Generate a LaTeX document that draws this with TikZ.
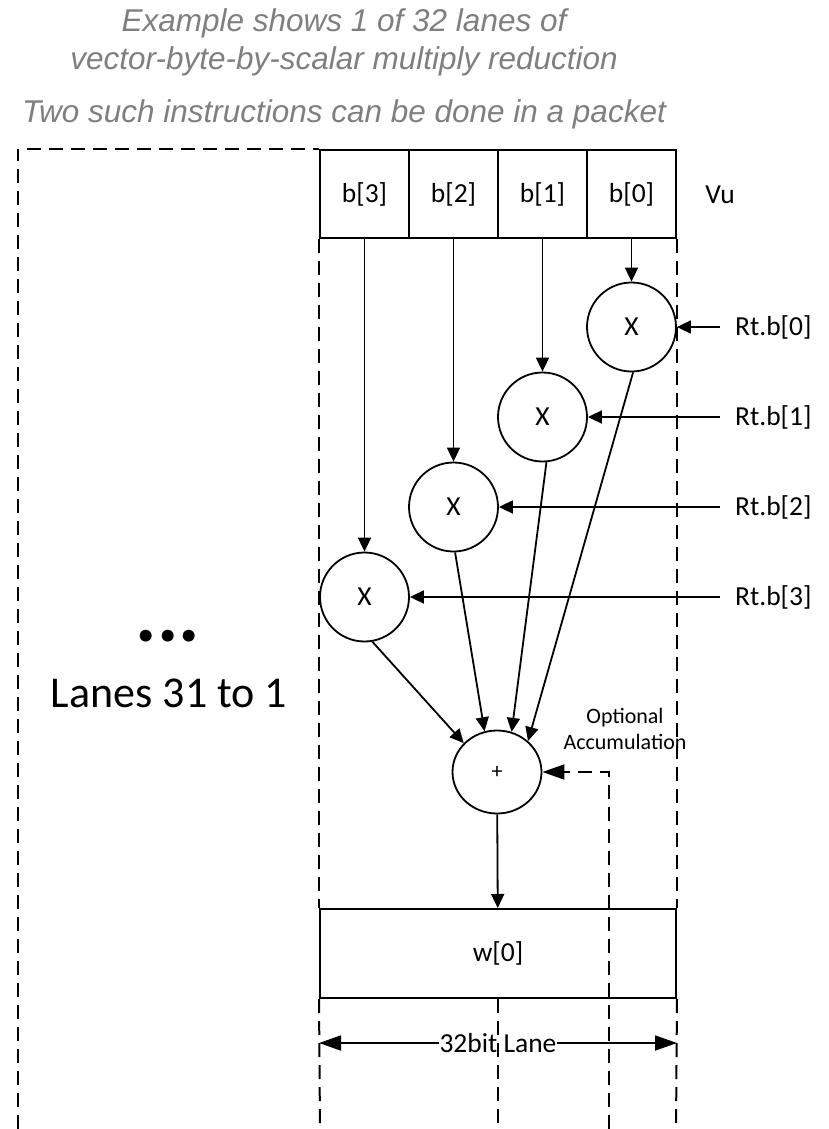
\documentclass[tikz,border=0pt]{standalone}
\usepackage{fontspec}
\setmainfont{Carlito}
\newfontfamily\titlefont{Liberation Sans}
\usetikzlibrary{arrows.meta,shapes.geometric}
\definecolor{titlegray}{HTML}{7F7F7F}
\begin{document}
\begin{tikzpicture}[x=1pt,y=-1pt,
  lbl/.style={font=\fontsize{27.5}{33}\selectfont, inner sep=0pt},
  cellbox/.style={draw, line width=2pt, minimum width=89pt, minimum height=88pt, inner sep=0pt, font=\fontsize{27.5}{33}\selectfont},
  mul/.style={draw, circle, line width=1.8pt, minimum size=89pt, inner sep=0pt, font=\fontsize{27.5}{33}\selectfont},
  sumnode/.style={draw, ellipse, line width=1.8pt, minimum width=89pt, minimum height=83pt, inner sep=0pt, font=\fontsize{22}{26}\selectfont},
  arr/.style={-{Triangle[length=14pt,width=13pt]}, line width=1.8pt},
  bigarr/.style={-{Triangle[length=22pt,width=15pt]}, line width=1.8pt},
  lane/.style={line width=2pt, dash pattern=on 14pt off 8pt},
  titletext/.style={font=\titlefont\itshape\fontsize{31.5}{33}\selectfont, text=titlegray, anchor=base, inner sep=0pt}
]
\useasboundingbox (0,0) rectangle (829,1129);

% title
\node[titletext] (t1) at (344,32) {Example shows 1 of 32 lanes of};
\node[titletext] (t2) at (344,70) {vector-byte-by-scalar multiply reduction};
\node[titletext] (t3) at (344,122) {Two such instructions can be done in a packet};

% Vu register cells
\node[cellbox] (b3) at (364.5,194) {b[3]};
\node[cellbox] (b2) at (453.5,194) {b[2]};
\node[cellbox] (b1) at (542.5,194) {b[1]};
\node[cellbox] (b0) at (631.5,194) {b[0]};
\node[lbl] (vu) at (720,195) {Vu};

% multipliers
\node[mul] (m0) at (631.5,327) {X};
\node[mul] (m1) at (542.5,417) {X};
\node[mul] (m2) at (453.5,507) {X};
\node[mul] (m3) at (364.5,597) {X};

% Rt labels
\node[lbl, anchor=west] (r0) at (735,327) {Rt.b[0]};
\node[lbl, anchor=west] (r1) at (735,417) {Rt.b[1]};
\node[lbl, anchor=west] (r2) at (735,507) {Rt.b[2]};
\node[lbl, anchor=west] (r3) at (735,597) {Rt.b[3]};

% adder
\node[sumnode] (sum) at (497,772) {+};

% result register
\node[draw, line width=2pt, minimum width=356pt, minimum height=89pt, inner sep=0pt, font=\fontsize{27.5}{33}\selectfont] (w) at (498,953.5) {w[0]};

% left side text
\node[font=\bfseries\fontsize{80}{80}\selectfont, anchor=base, inner sep=0pt] (dots) at (168,641) {...};
\node[font=\fontsize{44}{50}\selectfont, anchor=base, inner sep=0pt] (lanes) at (169,707) {Lanes 31 to 1};

\node[font=\fontsize{22}{26}\selectfont, align=center, inner sep=0pt] (opt) at (625,729) {Optional\\Accumulation};

% coordinates for free ends
\coordinate (otl) at (18,149);
\coordinate (otr) at (27,149);
\coordinate (obl) at (18,1129);
\coordinate (lbot) at (320,1129);
\coordinate (rbot) at (676,1129);
\coordinate (cbot) at (498,1129);
\coordinate (abot) at (609,1129);

% dashed lane boundaries
\draw[lane] (obl) -- (otl);
\draw[lane] (otr) -- (b3.north west);
\draw[lane] (b3.south west) -- (w.north west);
\draw[lane] (w.south west) -- (lbot);
\draw[lane] (b0.south east) -- (w.north east);
\draw[lane] (w.south east) -- (rbot);
\draw[lane] (w.south) -- (cbot);

% vector inputs
\draw[arr] (b0) -- (m0);
\draw[arr] (b1) -- (m1);
\draw[arr] (b2) -- (m2);
\draw[arr] (b3) -- (m3);

% scalar inputs
\draw[arr, shorten <=15pt] (r0.west) -- (m0.east);
\draw[arr, shorten <=15pt] (r1.west) -- (m1.east);
\draw[arr, shorten <=15pt] (r2.west) -- (m2.east);
\draw[arr, shorten <=15pt] (r3.west) -- (m3.east);

% products to adder
\draw[arr] (m0.-88) -- (sum.45);
\draw[arr] (m1.-85) -- (sum.70);
\draw[arr] (m2.-88) -- (sum.107);
\draw[arr] (m3.-80) -- (sum.139);

% adder to result
\draw[arr] (sum) -- (w);

% optional accumulation
\draw[bigarr, lane] (abot) |- (sum.east);

% lane width
\node[lbl] (lanew) at (498,1043) {32bit Lane};
\draw[bigarr] (lanew.west) -- (lanew.west -| w.west);
\draw[bigarr] (lanew.east) -- (lanew.east -| w.east);
\end{tikzpicture}
\end{document}
